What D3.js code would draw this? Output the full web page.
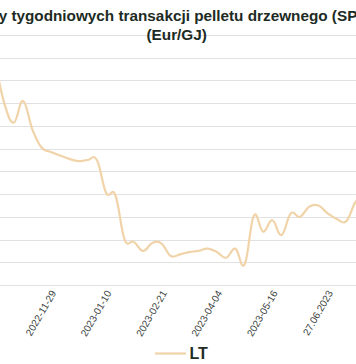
<!DOCTYPE html>
<html>
<head>
<meta charset="utf-8">
<script src="https://cdn.jsdelivr.net/npm/d3@7"></script>
<style>
  html, body { margin: 0; padding: 0; background: #fff; }
  svg { display: block; }
  text { font-family: "Liberation Sans", Arial, Helvetica, sans-serif; }
</style>
</head>
<body>
<svg id="chart" width="356" height="364"></svg>
<script>
// ---- data ----
const weeks = [
  "2022-10-11","2022-10-18","2022-10-25","2022-11-01","2022-11-08","2022-11-15","2022-11-22",
  "2022-11-29","2022-12-06","2022-12-13","2022-12-20","2022-12-27","2023-01-03",
  "2023-01-10","2023-01-17","2023-01-24","2023-01-31","2023-02-07","2023-02-14",
  "2023-02-21","2023-02-28","2023-03-07","2023-03-14","2023-03-21","2023-03-28",
  "2023-04-04","2023-04-11","2023-04-18","2023-04-25","2023-05-02","2023-05-09",
  "2023-05-16","2023-05-23","2023-05-30","2023-06-06","2023-06-13","2023-06-20",
  "27.06.2023","04.07.2023","11.07.2023","18.07.2023"
];
const ltValues = [
  29.6, 25.9, 24.3, 26.2, 23.7, 22.1, 21.7,
  21.4, 21.1, 20.9, 21.0, 21.0, 18.1,
  17.9, 14.0, 13.8, 13.0, 13.7, 13.65,
  12.55, 12.7, 12.9, 13.0, 13.2, 12.9,
  12.4, 13.2, 11.8, 16.1, 14.7, 15.7,
  14.4, 16.3, 16.0, 16.9, 17.0, 16.3,
  15.8, 15.6, 17.3, 18.2
];
const tickLabels = ["2022-11-29","2023-01-10","2023-02-21","2023-04-04","2023-05-16","27.06.2023"];
const yTicks = [10, 12, 14, 16, 18, 20, 22, 24, 26, 28, 30, 32];
const seriesName = "LT";
const titleLines = ["Ceny tygodniowych transakcji pelletu drzewnego (SPOT)", "(Eur/GJ)"];

// ---- drawing ----
const svg = d3.select("#chart");
const W = 356;

const x = d3.scalePoint().domain(weeks).range([-4.6, 364.6]);
const y = d3.scaleLinear().domain([10, 32]).range([285, 35]);

// gridlines
svg.append("g")
  .selectAll("line")
  .data(yTicks)
  .join("line")
  .attr("x1", 0).attr("x2", W)
  .attr("y1", d => Math.round(y(d)) + 0.5)
  .attr("y2", d => Math.round(y(d)) + 0.5)
  .attr("stroke", "#e1e1e1")
  .attr("stroke-width", 1.2);

// title
const title = svg.append("text")
  .attr("text-anchor", "middle")
  .attr("fill", "#1d2b24")
  .attr("font-weight", "bold")
  .attr("font-size", 15.3);
titleLines.forEach((t, i) => {
  title.append("tspan").attr("x", 176.7).attr("y", 21 + i * 19).text(t);
});

// line
const line = d3.line()
  .x((d, i) => x(weeks[i]))
  .y(d => y(d))
  .curve(d3.curveCardinal.tension(-0.2));

svg.append("path")
  .datum(ltValues)
  .attr("d", line)
  .attr("fill", "none")
  .attr("stroke", "#f0d3a8")
  .attr("stroke-width", 2.2);

// x tick labels
svg.append("g")
  .selectAll("text")
  .data(tickLabels)
  .join("text")
  .attr("transform", d => `translate(${x(d) - 3.5},293) rotate(-60)`)
  .attr("text-anchor", "end")
  .attr("font-size", 10)
  .attr("fill", "#3a423d")
  .text(d => d);

// legend
svg.append("line")
  .attr("x1", 155).attr("x2", 186)
  .attr("y1", 353.5).attr("y2", 353.5)
  .attr("stroke", "#f0d3a8")
  .attr("stroke-width", 2.2);
svg.append("text")
  .attr("x", 189.5).attr("y", 358.5)
  .attr("font-size", 16)
  .attr("font-weight", "bold")
  .attr("fill", "#1d2b24")
  .text(seriesName);
</script>
</body>
</html>
